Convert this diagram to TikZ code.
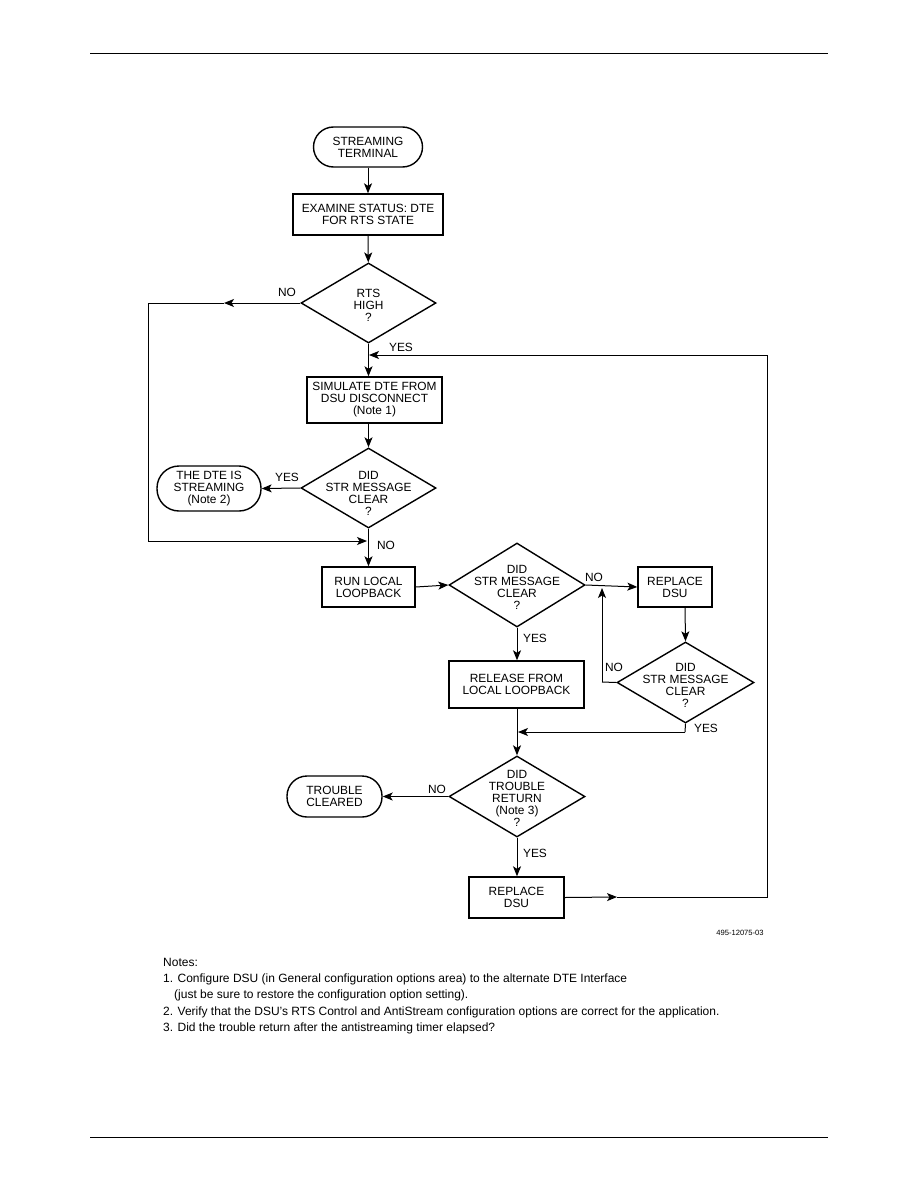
\documentclass[tikz,border=0pt]{standalone}
\usepackage{fontspec}
\setmainfont{Liberation Sans}
\usetikzlibrary{shapes.geometric,arrows.meta}
\begin{document}
\begin{tikzpicture}[x=1pt,y=-1pt,
  every node/.style={font=\fontsize{11.9}{12}\selectfont},
  boxn/.style={draw,line width=1.4pt,rectangle,inner sep=0pt,align=center},
  term/.style={draw,line width=1.4pt,rectangle,inner sep=0pt,align=center,rounded corners=20pt},
  dec/.style={draw,line width=1.4pt,diamond,inner sep=0pt},
  dtext/.style={align=center,inner sep=0pt},
  conn/.style={line width=1pt},
  arr/.style={line width=1pt,-{Stealth[length=10pt,width=8pt,inset=2.5pt]}},
  lbl/.style={inner sep=0pt}]
\useasboundingbox (0,0) rectangle (918,1188);
% page rules
\coordinate (tl) at (90,53); \coordinate (tr) at (828,53);
\coordinate (bl) at (90,1137); \coordinate (br) at (828,1137);
\draw[line width=0.8pt] (tl) -- (tr);
\draw[line width=0.8pt] (bl) -- (br);

% nodes
\node[term,minimum width=109pt,minimum height=40pt] (start) at (368,147) {STREAMING\\TERMINAL};
\node[boxn,minimum width=150pt,minimum height=41pt] (exam) at (368,214.5) {EXAMINE STATUS: DTE\\FOR RTS STATE};
\node[dec,minimum width=135pt,minimum height=80pt] (rts) at (368.5,303) {};
\node[dtext] (rtst) at (368.5,305) {RTS\\HIGH\\?};
\node[boxn,minimum width=135pt,minimum height=46pt] (sim) at (374.5,400) {SIMULATE DTE FROM\\DSU DISCONNECT\\(Note 1)};
\node[dec,minimum width=135pt,minimum height=80pt] (d2) at (368.5,488) {};
\node[dtext] (d2t) at (368.5,493) {DID\\STR MESSAGE\\CLEAR\\?};
\node[term,rounded corners=22pt,minimum width=104pt,minimum height=45pt] (dte) at (209,488.5) {THE DTE IS\\STREAMING\\(Note 2)};
\node[boxn,minimum width=93pt,minimum height=40pt] (run) at (368.5,587) {RUN LOCAL\\LOOPBACK};
\node[dec,minimum width=136pt,minimum height=84pt] (d3) at (517,585) {};
\node[dtext] (d3t) at (517,587) {DID\\STR MESSAGE\\CLEAR\\?};
\node[boxn,minimum width=74pt,minimum height=40pt] (r1) at (675,587) {REPLACE\\DSU};
\node[dec,minimum width=137pt,minimum height=81pt] (d4) at (685.5,682.5) {};
\node[dtext] (d4t) at (685.5,685) {DID\\STR MESSAGE\\CLEAR\\?};
\node[boxn,minimum width=135pt,minimum height=47pt] (rel) at (516.5,684.5) {RELEASE FROM\\LOCAL LOOPBACK};
\node[dec,minimum width=136pt,minimum height=81pt] (d5) at (517,796.5) {};
\node[dtext] (d5t) at (517,798) {DID\\TROUBLE\\RETURN\\(Note 3)\\?};
\node[term,minimum width=95pt,minimum height=41pt] (tc) at (334.5,796.5) {TROUBLE\\CLEARED};
\node[boxn,minimum width=95pt,minimum height=41pt] (r2) at (516.5,897.5) {REPLACE\\DSU};

% helper coordinates
\coordinate (a1) at (224,303);
\coordinate (c1) at (148,303);
\coordinate (c2) at (148,541);
\coordinate (j1) at (367,541);
\coordinate (c3) at (602,682);
\coordinate (j2b) at (602,588);
\coordinate (c4) at (685,732);
\coordinate (j3) at (518,732);
\coordinate (a2) at (617,897);
\coordinate (c5) at (767,897);
\coordinate (c6) at (767,355);
\coordinate (j4) at (369,355);
\coordinate (r1b) at (685,607);

% connectors
\draw[arr] (start) -- (exam);
\draw[arr] (exam) -- (rts);
\draw[arr] (rts.west) -- (a1);
\draw[conn] (a1) -- (c1) -- (c2);
\draw[arr] (c2) -- (j1);
\draw[arr] (rts.south) -- (rts.south |- sim.north);
\draw[arr] (rts.south |- sim.south) -- (d2.north);
\draw[arr] (d2.west) -- (dte.east);
\draw[arr] (d2.south) -- (d2.south |- run.north);
\draw[arr] (run.east) -- (d3.west);
\draw[arr] (d3.east) -- (r1.west);
\draw[arr] (r1b) -- (d4.north);
\draw[conn] (d4.west) -- (c3);
\draw[arr] (c3) -- (j2b);
\draw[conn] (d4.south) -- (c4);
\draw[arr] (c4) -- (j3);
\draw[arr] (d3.south) -- (d3.south |- rel.north);
\draw[arr] (d3.south |- rel.south) -- (d5.north);
\draw[arr] (d5.west) -- (tc.east);
\draw[arr] (d5.south) -- (d5.south |- r2.north);
\draw[arr] (r2.east) -- (a2);
\draw[conn] (a2) -- (c5) -- (c6);
\draw[arr] (c6) -- (j4);

% labels
\node[lbl] (l1) at (287,292) {NO};
\node[lbl] (l2) at (401,347) {YES};
\node[lbl] (l3) at (287,477) {YES};
\node[lbl] (l4) at (386,545) {NO};
\node[lbl] (l5) at (594,577) {NO};
\node[lbl] (l6) at (535,638) {YES};
\node[lbl] (l7) at (614,667) {NO};
\node[lbl] (l8) at (706,728) {YES};
\node[lbl] (l9) at (437,789) {NO};
\node[lbl] (l10) at (535,853) {YES};
\node[lbl,font=\fontsize{7.6}{8}\selectfont] (fig) at (740,933) {495-12075-03};

% notes
\node[anchor=north west,inner sep=0pt,align=left,font=\fontsize{12}{16.2}\selectfont] (notes) at (163,958) {Notes:\\
1. Configure DSU (in General configuration options area) to the alternate DTE Interface\\
\hspace*{11pt}(just be sure to restore the configuration option setting).\\
2. Verify that the DSU's RTS Control and AntiStream configuration options are correct for the application.\\
3. Did the trouble return after the antistreaming timer elapsed?};
\end{tikzpicture}
\end{document}
